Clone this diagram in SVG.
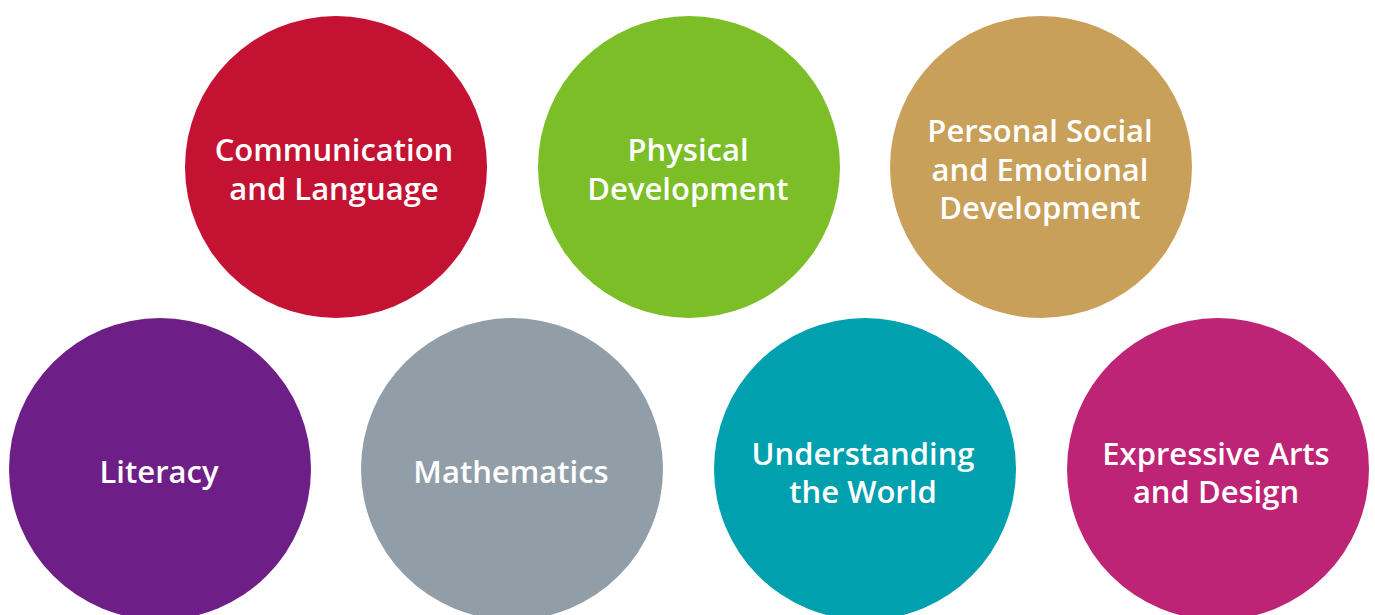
<svg xmlns="http://www.w3.org/2000/svg" width="1375" height="615" viewBox="0 0 1375 615">
<style>
text{font-family:"Open Sans","Liberation Sans",sans-serif;font-size:31px;font-weight:600;fill:#ffffff;text-anchor:middle}
</style>
<rect width="1375" height="615" fill="#ffffff"/>
<g id="connectors"/>
<g id="n1"><circle cx="336" cy="167" r="151" fill="#C41233"/><text x="334" y="161">Communication</text><text x="334" y="200">and Language</text></g>
<g id="n2"><circle cx="689" cy="167" r="151" fill="#7BBE27"/><text x="688" y="161">Physical</text><text x="688" y="200">Development</text></g>
<g id="n3"><circle cx="1041" cy="167" r="151" fill="#C9A05A"/><text x="1040" y="142">Personal Social</text><text x="1040" y="181">and Emotional</text><text x="1040" y="219">Development</text></g>
<g id="n4"><circle cx="160" cy="469" r="151" fill="#6D1F87"/><text x="159" y="483">Literacy</text></g>
<g id="n5"><circle cx="512" cy="469" r="151" fill="#919EA7"/><text x="511" y="483">Mathematics</text></g>
<g id="n6"><circle cx="865" cy="469" r="151" fill="#00A0AE"/><text x="863" y="465">Understanding</text><text x="863" y="503">the World</text></g>
<g id="n7"><circle cx="1218" cy="469" r="151" fill="#BE2475"/><text x="1216" y="465">Expressive Arts</text><text x="1216" y="503">and Design</text></g>
</svg>
